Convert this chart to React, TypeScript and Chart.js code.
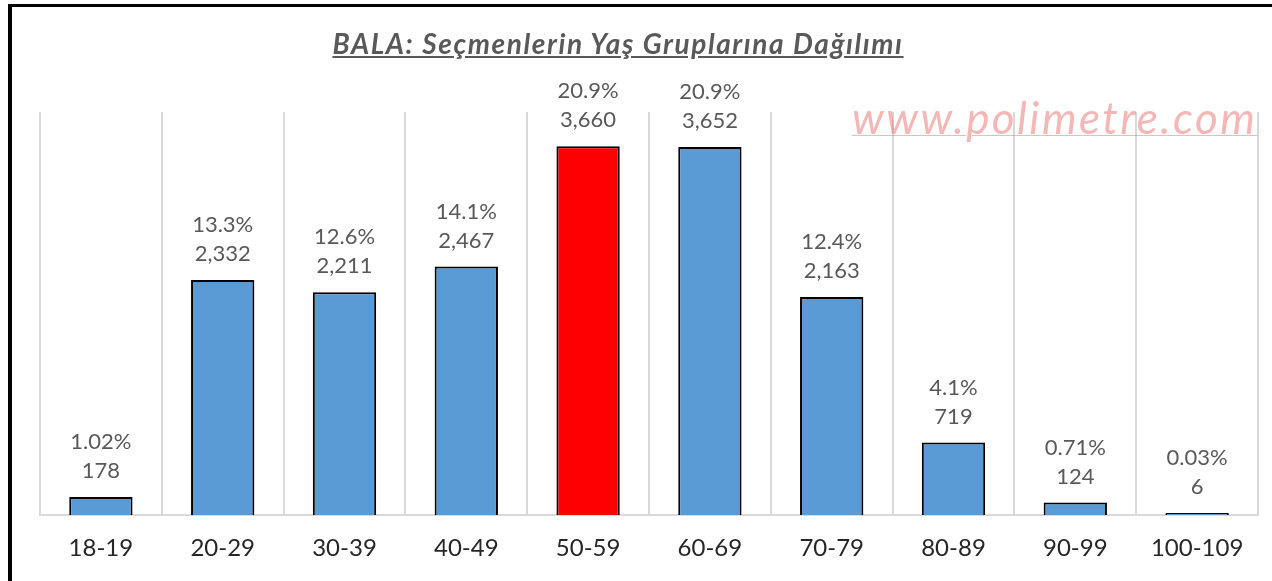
import React, { useEffect, useRef } from "react";
import { Chart, registerables } from "chart.js";

Chart.register(...registerables);

const categories = ["18-19", "20-29", "30-39", "40-49", "50-59", "60-69", "70-79", "80-89", "90-99", "100-109"];
const voters = [178, 2332, 2211, 2467, 3660, 3652, 2163, 719, 124, 6];
const percentLabels = ["1.02%", "13.3%", "12.6%", "14.1%", "20.9%", "20.9%", "12.4%", "4.1%", "0.71%", "0.03%"];
const highlightIndex = 4;
const titleText = "BALA: Seçmenlerin Yaş Gruplarına Dağılımı";
const watermarkText = "www.polimetre.com";

const FONT = "Lato, 'Open Sans', sans-serif";

const labelPlugin = {
  id: "twoLineLabels",
  afterDatasetsDraw(chart: any) {
    const ctx = chart.ctx;
    const meta = chart.getDatasetMeta(0);
    ctx.save();
    ctx.fillStyle = "#595959";
    ctx.font = `22px ${FONT}`;
    ctx.textAlign = "center";
    ctx.textBaseline = "middle";
    meta.data.forEach((bar: any, i: number) => {
      ctx.fillText(percentLabels[i], bar.x, bar.y - 55);
      ctx.fillText(voters[i].toLocaleString("en-US"), bar.x, bar.y - 26);
    });
    ctx.restore();
  },
};

export default function App() {
  const ref = useRef<HTMLCanvasElement | null>(null);

  useEffect(() => {
    if (!ref.current) return;
    const chart = new Chart(ref.current, {
      type: "bar",
      data: {
        labels: categories,
        datasets: [
          {
            data: voters,
            backgroundColor: voters.map((_, i) => (i === highlightIndex ? "#ff0000" : "#5b9bd5")),
            borderColor: "#000000",
            borderWidth: 2,
            borderSkipped: "bottom",
            minBarLength: 2,
            categoryPercentage: 1,
            barPercentage: 0.52,
          },
        ],
      },
      options: {
        responsive: false,
        animation: false,
        layout: { padding: { left: 40, right: 14, top: 112, bottom: 0 } },
        plugins: { legend: { display: false }, tooltip: { enabled: false }, title: { display: false } },
        scales: {
          y: { display: false, min: 0, max: 4000 },
          x: {
            afterFit(scale: any) {
              scale.height = 66;
            },
            grid: { display: true, color: "#d9d9d9", lineWidth: 2, drawTicks: false, offset: true },
            border: { display: true, color: "#d9d9d9", width: 2 },
            ticks: { color: "#262626", font: { family: FONT, size: 24 }, padding: 19 },
          },
        },
      },
      plugins: [labelPlugin],
    });
    return () => chart.destroy();
  }, []);

  return (
    <div style={{ position: "absolute", left: 0, top: 0, width: 1272, height: 581, background: "#fff", overflow: "hidden" }}>
      <canvas ref={ref} width={1272} height={581} style={{ position: "absolute", left: 0, top: 0 }} />
      <div
        style={{
          position: "absolute",
          left: 8,
          top: 4,
          width: 1400,
          height: 700,
          borderLeft: "4px solid #000",
          borderTop: "3px solid #000",
          pointerEvents: "none",
        }}
      />
      <div
        style={{
          position: "absolute",
          left: 618 - 400,
          width: 800,
          top: 26,
          textAlign: "center",
          fontFamily: FONT,
          fontSize: 28,
          fontWeight: 700,
          fontStyle: "italic",
          letterSpacing: "1.6px",
          color: "#595959",
          textDecoration: "underline",
          lineHeight: "34px",
          whiteSpace: "nowrap",
        }}
      >
        {titleText}
      </div>
      <div
        style={{
          position: "absolute",
          left: 852,
          width: 430,
          top: 92,
          textAlign: "left",
          fontFamily: FONT,
          fontSize: 44,
          fontStyle: "italic",
          letterSpacing: "2.4px",
          color: "rgba(235, 110, 110, 0.5)",
          textDecoration: "underline",
          textDecorationThickness: 1,
          lineHeight: "50px",
          whiteSpace: "nowrap",
        }}
      >
        {watermarkText}
      </div>
    </div>
  );
}
